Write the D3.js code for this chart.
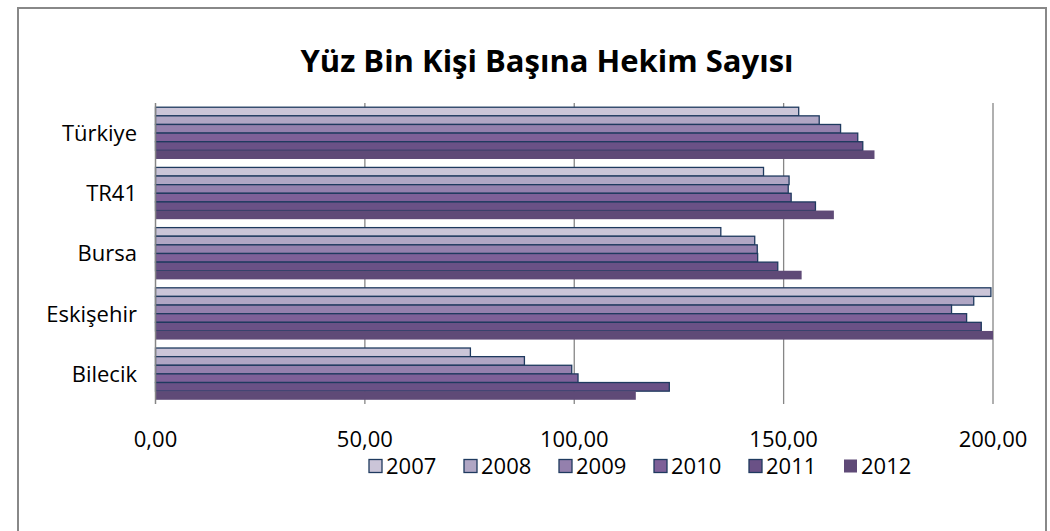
<!DOCTYPE html>
<html>
<head>
<meta charset="utf-8">
<style>
  body { margin: 0; background: #fff; }
  svg text { font-family: "Open Sans", sans-serif; fill: #000; }
  .title { font-weight: bold; font-size: 31px; }
  .cat, .tick-label, .legend text { font-size: 22px; }
</style>
<script src="https://d3js.org/d3.v7.min.js"></script>
</head>
<body>
<svg width="1050" height="531"></svg>
<script>
// chart data
var categories = ["Türkiye", "TR41", "Bursa", "Eskişehir", "Bilecik"];
var years = ["2007", "2008", "2009", "2010", "2011", "2012"];
var v2007 = [153.6, 145.2, 135.0, 199.5, 75.2];
var v2008 = [158.5, 151.3, 143.1, 195.4, 88.1];
var v2009 = [163.6, 151.1, 143.7, 190.1, 99.4];
var v2010 = [167.7, 151.8, 143.8, 193.7, 100.9];
var v2011 = [168.9, 157.6, 148.6, 197.2, 122.7];
var v2012 = [171.7, 162.0, 154.3, 200.0, 114.7];
var tickValues = [0, 50, 100, 150, 200];
var series = [v2007, v2008, v2009, v2010, v2011, v2012];

var colors = ["#cbc5d8", "#b0a6c4", "#9480ad", "#7e6098", "#6a5186", "#5f4a77"];

var svg = d3.select("svg");

// outer frame
svg.append("rect")
    .attr("x", 18).attr("y", 8)
    .attr("width", 1028).attr("height", 560)
    .attr("fill", "none")
    .attr("stroke", "#888")
    .attr("stroke-width", 2);

svg.append("text")
    .attr("class", "title")
    .attr("x", 547).attr("y", 72)
    .attr("text-anchor", "middle")
    .text("Yüz Bin Kişi Başına Hekim Sayısı");

var plotLeft = 155.5, plotRight = 993, plotTop = 103, plotBottom = 404;

var x = d3.scaleLinear().domain([0, 200]).range([plotLeft, plotRight]);
var y0 = d3.scaleBand().domain(categories).range([plotTop, plotBottom])
    .paddingInner(0.14).paddingOuter(0.07);
var y1 = d3.scaleBand().domain(years).range([0, y0.bandwidth()]);

// gridlines
svg.append("g").selectAll("line")
    .data(tickValues.slice(1))
    .enter().append("line")
    .attr("x1", d => x(d)).attr("x2", d => x(d))
    .attr("y1", plotTop).attr("y2", plotBottom)
    .attr("stroke", "#868686").attr("stroke-width", 1.3);

// bars
var groups = svg.append("g").selectAll("g")
    .data(categories)
    .enter().append("g")
    .attr("transform", d => "translate(0," + y0(d) + ")");

groups.selectAll("rect")
    .data((c, ci) => years.map((yr, si) => ({ yr: yr, si: si, v: series[si][ci] })))
    .enter().append("rect")
    .attr("x", x(0))
    .attr("y", d => y1(d.yr))
    .attr("width", d => x(d.v) - x(0))
    .attr("height", y1.bandwidth())
    .attr("fill", d => colors[d.si])
    .attr("stroke", d => d.si === 5 ? "none" : "#1f3a5f")
    .attr("stroke-width", 1.3);

// axis line on the left
svg.append("line")
    .attr("x1", x(0)).attr("x2", x(0))
    .attr("y1", plotTop).attr("y2", plotBottom)
    .attr("stroke", "#868686").attr("stroke-width", 1.5);

// category labels
svg.append("g").selectAll("text")
    .data(categories)
    .enter().append("text")
    .attr("class", "cat")
    .attr("x", 137)
    .attr("y", d => y0(d) + y0.bandwidth() / 2)
    .attr("dy", "0.36em")
    .attr("text-anchor", "end")
    .text(d => d);

// x tick labels
var fmt = d3.format(".2f");
svg.append("g").selectAll("text")
    .data(tickValues)
    .enter().append("text")
    .attr("class", "tick-label")
    .attr("x", d => x(d))
    .attr("y", 439)
    .attr("dy", "0.36em")
    .attr("text-anchor", "middle")
    .text(d => fmt(d).replace(".", ","));

// legend
var legend = svg.append("g").attr("class", "legend").selectAll("g")
    .data(years)
    .enter().append("g")
    .attr("transform", (d, i) => "translate(" + (369 + i * 95) + ",466)");

legend.append("rect")
    .attr("x", 0).attr("y", -6.5)
    .attr("width", 13).attr("height", 13)
    .attr("fill", (d, i) => colors[i])
    .attr("stroke", (d, i) => i === 5 ? "none" : "#1f3a5f")
    .attr("stroke-width", 1.3);

legend.append("text")
    .attr("x", 17).attr("y", 0)
    .attr("dy", "0.36em")
    .text(d => d);
</script>
</body>
</html>
